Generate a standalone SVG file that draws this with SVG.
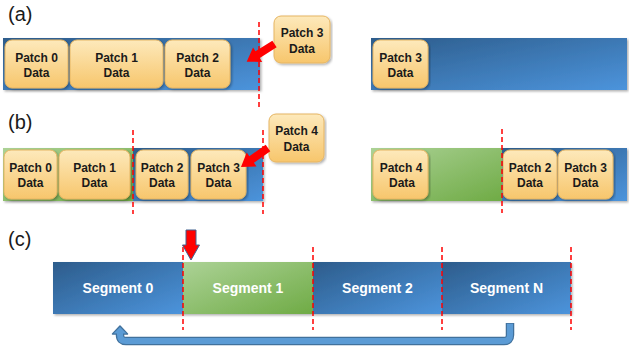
<svg xmlns="http://www.w3.org/2000/svg" width="629" height="349" viewBox="0 0 629 349">
  <defs>
    <linearGradient id="gBlue" x1="0" y1="0" x2="1" y2="1">
      <stop offset="0" stop-color="#2d5c8b"/>
      <stop offset="1" stop-color="#4c94dc"/>
    </linearGradient>
    <linearGradient id="gGreen" x1="0" y1="0" x2="1" y2="1">
      <stop offset="0" stop-color="#acd296"/>
      <stop offset="1" stop-color="#6fab45"/>
    </linearGradient>
    <linearGradient id="gBox" x1="0" y1="0" x2="0" y2="1">
      <stop offset="0" stop-color="#fde9bb"/>
      <stop offset="1" stop-color="#f7c66c"/>
    </linearGradient>
    <filter id="shadow" x="-5%" y="-10%" width="110%" height="130%">
      <feDropShadow dx="1.5" dy="1.5" stdDeviation="1" flood-color="#000" flood-opacity="0.3"/>
    </filter>
    <path id="diagArrow" d="M0,-4 H20 V-8.5 L33,0 L20,8.5 V4 H0 Z"/>
  </defs>
  <style>
    .bar-blue { fill: url(#gBlue); }
    .bar-green { fill: url(#gGreen); }
    .box { fill: url(#gBox); stroke: #e6b562; stroke-width: 1; filter: url(#shadow); }
    .txt { font-family: "Liberation Sans", Arial, sans-serif; font-weight: bold; font-size: 12px; fill: #1a1a1a; text-anchor: middle; }
    .seg { font-family: "Liberation Sans", Arial, sans-serif; font-weight: bold; font-size: 14px; fill: #ffffff; text-anchor: middle; }
    .lbl { font-family: "Liberation Sans", Arial, sans-serif; font-size: 20px; fill: #1a1a1a; }
    .cut { stroke: #ff0000; stroke-width: 1.5; stroke-dasharray: 5 3; fill: none; }
    .red { fill: #ff0000; }
  </style>

  <!-- panel labels -->
  <text class="lbl" x="8" y="21">(a)</text>
  <text class="lbl" x="8" y="129">(b)</text>
  <text class="lbl" x="8" y="246">(c)</text>

  <!-- (a) buffer before wrap -->
  <g id="a-buffer" filter="url(#shadow)">
    <rect class="bar-blue" x="3" y="38" width="257" height="52"/>
  </g>
  <g id="a-patch0"><rect class="box" x="5" y="40" width="63" height="48" rx="7"/><text class="txt" x="36.5" y="61.5">Patch 0</text><text class="txt" x="36.5" y="77">Data</text></g>
  <g id="a-patch1"><rect class="box" x="70" y="40" width="93" height="48" rx="7"/><text class="txt" x="116.5" y="61.5">Patch 1</text><text class="txt" x="116.5" y="77">Data</text></g>
  <g id="a-patch2"><rect class="box" x="165" y="40" width="65" height="48" rx="7"/><text class="txt" x="197.5" y="61.5">Patch 2</text><text class="txt" x="197.5" y="77">Data</text></g>
  <g id="a-patch3-new"><rect class="box" x="274" y="16" width="56" height="47" rx="7"/><text class="txt" x="302" y="37">Patch 3</text><text class="txt" x="302" y="52.5">Data</text></g>

  <!-- (a) buffer after wrap -->
  <g id="a-buffer-wrapped" filter="url(#shadow)">
    <rect class="bar-blue" x="371" y="38" width="256" height="52"/>
  </g>
  <g id="a-patch3-wrapped"><rect class="box" x="373" y="40" width="55" height="48" rx="7"/><text class="txt" x="400.5" y="61.5">Patch 3</text><text class="txt" x="400.5" y="77">Data</text></g>

  <!-- (b) buffer before wrap -->
  <g id="b-buffer" filter="url(#shadow)">
    <rect class="bar-green" x="3" y="148" width="130" height="53"/>
    <rect class="bar-blue" x="133" y="148" width="130" height="53"/>
  </g>
  <g id="b-patch0"><rect class="box" x="4" y="150" width="53" height="49" rx="7"/><text class="txt" x="30.5" y="171.5">Patch 0</text><text class="txt" x="30.5" y="187">Data</text></g>
  <g id="b-patch1"><rect class="box" x="59" y="150" width="71" height="49" rx="7"/><text class="txt" x="94.5" y="171.5">Patch 1</text><text class="txt" x="94.5" y="187">Data</text></g>
  <g id="b-patch2"><rect class="box" x="136" y="150" width="52" height="49" rx="7"/><text class="txt" x="162" y="171.5">Patch 2</text><text class="txt" x="162" y="187">Data</text></g>
  <g id="b-patch3"><rect class="box" x="191" y="150" width="55" height="49" rx="7"/><text class="txt" x="218.5" y="171.5">Patch 3</text><text class="txt" x="218.5" y="187">Data</text></g>
  <g id="b-patch4-new"><rect class="box" x="269" y="114" width="55" height="48" rx="7"/><text class="txt" x="296.5" y="135">Patch 4</text><text class="txt" x="296.5" y="150.5">Data</text></g>

  <!-- (b) buffer after wrap -->
  <g id="b-buffer-wrapped" filter="url(#shadow)">
    <rect class="bar-green" x="371" y="148" width="131" height="53"/>
    <rect class="bar-blue" x="502" y="148" width="125" height="53"/>
  </g>
  <g id="b-patch4-wrapped"><rect class="box" x="373" y="150" width="55" height="49" rx="7"/><text class="txt" x="401" y="171.5">Patch 4</text><text class="txt" x="402" y="187">Data</text></g>
  <g id="b-patch2-kept"><rect class="box" x="503" y="150" width="54" height="49" rx="7"/><text class="txt" x="530" y="171.5">Patch 2</text><text class="txt" x="530" y="187">Data</text></g>
  <g id="b-patch3-kept"><rect class="box" x="558" y="150" width="55" height="49" rx="7"/><text class="txt" x="585.5" y="171.5">Patch 3</text><text class="txt" x="585.5" y="187">Data</text></g>

  <!-- (c) segmented buffer -->
  <g id="c-segments" filter="url(#shadow)">
    <rect class="bar-blue" x="53" y="262" width="130" height="52"/>
    <rect class="bar-green" x="183" y="262" width="130" height="52"/>
    <rect class="bar-blue" x="313" y="262" width="129" height="52"/>
    <rect class="bar-blue" x="442" y="262" width="129" height="52"/>
  </g>
  <g id="seg0"><text class="seg" x="118" y="293">Segment 0</text></g>
  <g id="seg1"><text class="seg" x="248" y="293">Segment 1</text></g>
  <g id="seg2"><text class="seg" x="377.5" y="293">Segment 2</text></g>
  <g id="segN"><text class="seg" x="506.5" y="293">Segment N</text></g>

  <!-- connectors and markers -->
  <g id="connectors">
    <!-- cut lines -->
    <line class="cut" x1="259" y1="22" x2="259" y2="107"/>
    <line class="cut" x1="133" y1="130" x2="133" y2="214"/>
    <line class="cut" x1="263" y1="130" x2="263" y2="214"/>
    <line class="cut" x1="502" y1="129" x2="502" y2="213"/>
    <line class="cut" x1="183" y1="247" x2="183" y2="330"/>
    <line class="cut" x1="313" y1="247" x2="313" y2="330"/>
    <line class="cut" x1="442" y1="247" x2="442" y2="330"/>
    <line class="cut" x1="571" y1="247" x2="571" y2="330"/>

    <!-- insertion arrows -->
    <use href="#diagArrow" class="red" transform="translate(274.5,44) rotate(147.5)"/>
    <use href="#diagArrow" class="red" transform="translate(268,148) rotate(145)"/>
    <path d="M186,230 H196 V245 H199.5 L191,260 L182.5,245 H186 Z" fill="#ff0000" stroke="#41618f" stroke-width="1"/>

    <!-- wrap-around arrow -->
    <path d="M510,323 V335 Q510,341 504,341 H126 Q120,341 120,335 V333" fill="none" stroke="#41719c" stroke-width="8.5"/>
    <polygon points="112.5,334 120,326 127.5,334" fill="#41719c" stroke="#41719c" stroke-width="1.5" stroke-linejoin="round"/>
    <path d="M510,323.8 V335 Q510,341 504,341 H126 Q120,341 120,335 V332" fill="none" stroke="#5b9bd5" stroke-width="6"/>
    <polygon points="113.5,333.5 120,327 126.5,333.5" fill="#5b9bd5"/>
  </g>
</svg>
